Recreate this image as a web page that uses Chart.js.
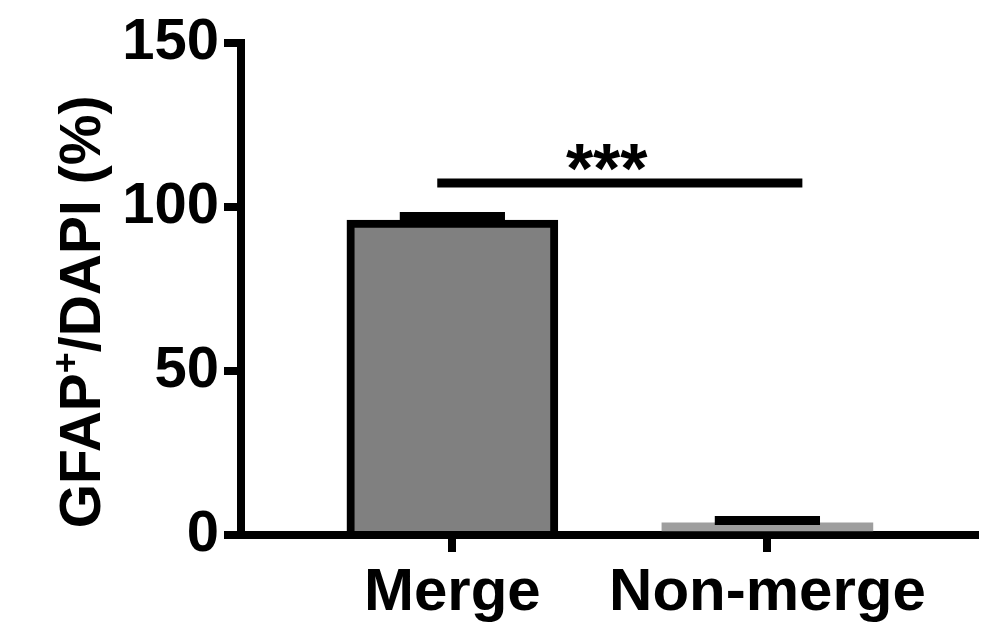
<!DOCTYPE html>
<html>
<head>
<meta charset="utf-8">
<script src="https://cdn.jsdelivr.net/npm/chart.js@4/dist/chart.umd.min.js"></script>
<style>
  html, body { margin: 0; padding: 0; background: #fff; }
  #wrap { width: 983px; height: 633px; position: relative; }
</style>
</head>
<body>
<div id="wrap"><canvas id="chart"></canvas></div>
<script>
const categories = ['Merge', 'Non-merge'];
const means = [96, 3.7];
const sems = [1.1, 0.7];
const barColors = ['#808080', '#9e9e9e'];
const barBorders = [8, 0];
const yTicks = [0, 50, 100, 150];
const sigFrom = -0.048, sigTo = 1.111, sigY = 107.3, sigLabel = '***';

const FONT = "'Liberation Sans', Arial, sans-serif";

const extras = {
    id: 'extras',
    afterDatasetsDraw(chart) {
        const ctx = chart.ctx;
        const x = chart.scales.x, y = chart.scales.y;
        ctx.save();
        ctx.strokeStyle = '#000';
        ctx.lineCap = 'butt';

        // error caps (mean + SEM)
        ctx.lineWidth = 9;
        means.forEach((m, i) => {
            const top = y.getPixelForValue(m + sems[i]);
            const x0 = x.getPixelForValue(i - 0.167);
            const x1 = x.getPixelForValue(i + 0.167);
            ctx.beginPath();
            ctx.moveTo(x0, top);
            ctx.lineTo(x1, top);
            ctx.stroke();
        });

        // significance line
        const sy = y.getPixelForValue(sigY);
        ctx.lineWidth = 9;
        ctx.beginPath();
        ctx.moveTo(x.getPixelForValue(sigFrom), sy);
        ctx.lineTo(x.getPixelForValue(sigTo), sy);
        ctx.stroke();

        ctx.fillStyle = '#000';
        ctx.font = 'bold 70px ' + FONT;
        ctx.textAlign = 'center';
        ctx.textBaseline = 'alphabetic';
        ctx.fillText(sigLabel, x.getPixelForValue(0.49), sy + 10);
        ctx.restore();
    },
    afterDraw(chart) {
        // y axis title with superscript
        const ctx = chart.ctx;
        ctx.save();
        ctx.fillStyle = '#000';
        ctx.translate(100, 312);
        ctx.rotate(-Math.PI / 2);
        const big = 'bold 57px ' + FONT, small = 'bold 36px ' + FONT;
        const parts = [['GFAP', big, 0], ['+', small, -22], ['/DAPI (%)', big, 0]];
        let total = 0;
        parts.forEach(p => { ctx.font = p[1]; total += ctx.measureText(p[0]).width; });
        let cx = -total / 2;
        ctx.textBaseline = 'alphabetic';
        ctx.textAlign = 'left';
        parts.forEach(p => {
            ctx.font = p[1];
            ctx.fillText(p[0], cx, p[2]);
            cx += ctx.measureText(p[0]).width;
        });
        ctx.restore();
    }
};

new Chart(document.getElementById('chart'), {
    type: 'bar',
    data: {
        datasets: [{
            data: categories.map((c, i) => ({ x: i, y: means[i] })),
            backgroundColor: barColors,
            borderColor: '#000',
            borderWidth: barBorders,
            borderSkipped: 'start',
            barThickness: 211
        }]
    },
    options: {
        responsive: true,
        maintainAspectRatio: false,
        animation: false,
        layout: { padding: { left: 0, right: 8, top: 43, bottom: 0 } },
        plugins: { legend: { display: false }, tooltip: { enabled: false } },
        scales: {
            x: {
                type: 'linear',
                offset: false,
                min: -0.671,
                max: 1.659,
                afterBuildTicks: s => { s.ticks = categories.map((c, i) => ({ value: i })); },
                afterFit: s => { s.height = 98; },
                border: { display: true, width: 8, color: '#000' },
                grid: { offset: false, drawOnChartArea: false, drawTicks: true, tickLength: 17, lineWidth: 8, color: '#000' },
                ticks: {
                    color: '#000',
                    padding: 5,
                    maxRotation: 0,
                    autoSkip: false,
                    font: { family: FONT, size: 60, weight: 'bold' },
                    callback: v => categories[v]
                }
            },
            y: {
                min: 0,
                max: 150,
                afterBuildTicks: s => { s.ticks = yTicks.map(v => ({ value: v })); },
                afterFit: s => { s.width = 241; },
                border: { display: true, width: 8, color: '#000' },
                grid: { drawOnChartArea: false, drawTicks: true, tickLength: 17, lineWidth: 8, color: '#000' },
                ticks: {
                    color: '#000',
                    padding: 5,
                    font: { family: FONT, size: 58, weight: 'bold' }
                }
            }
        }
    },
    plugins: [extras]
});
</script>
</body>
</html>
